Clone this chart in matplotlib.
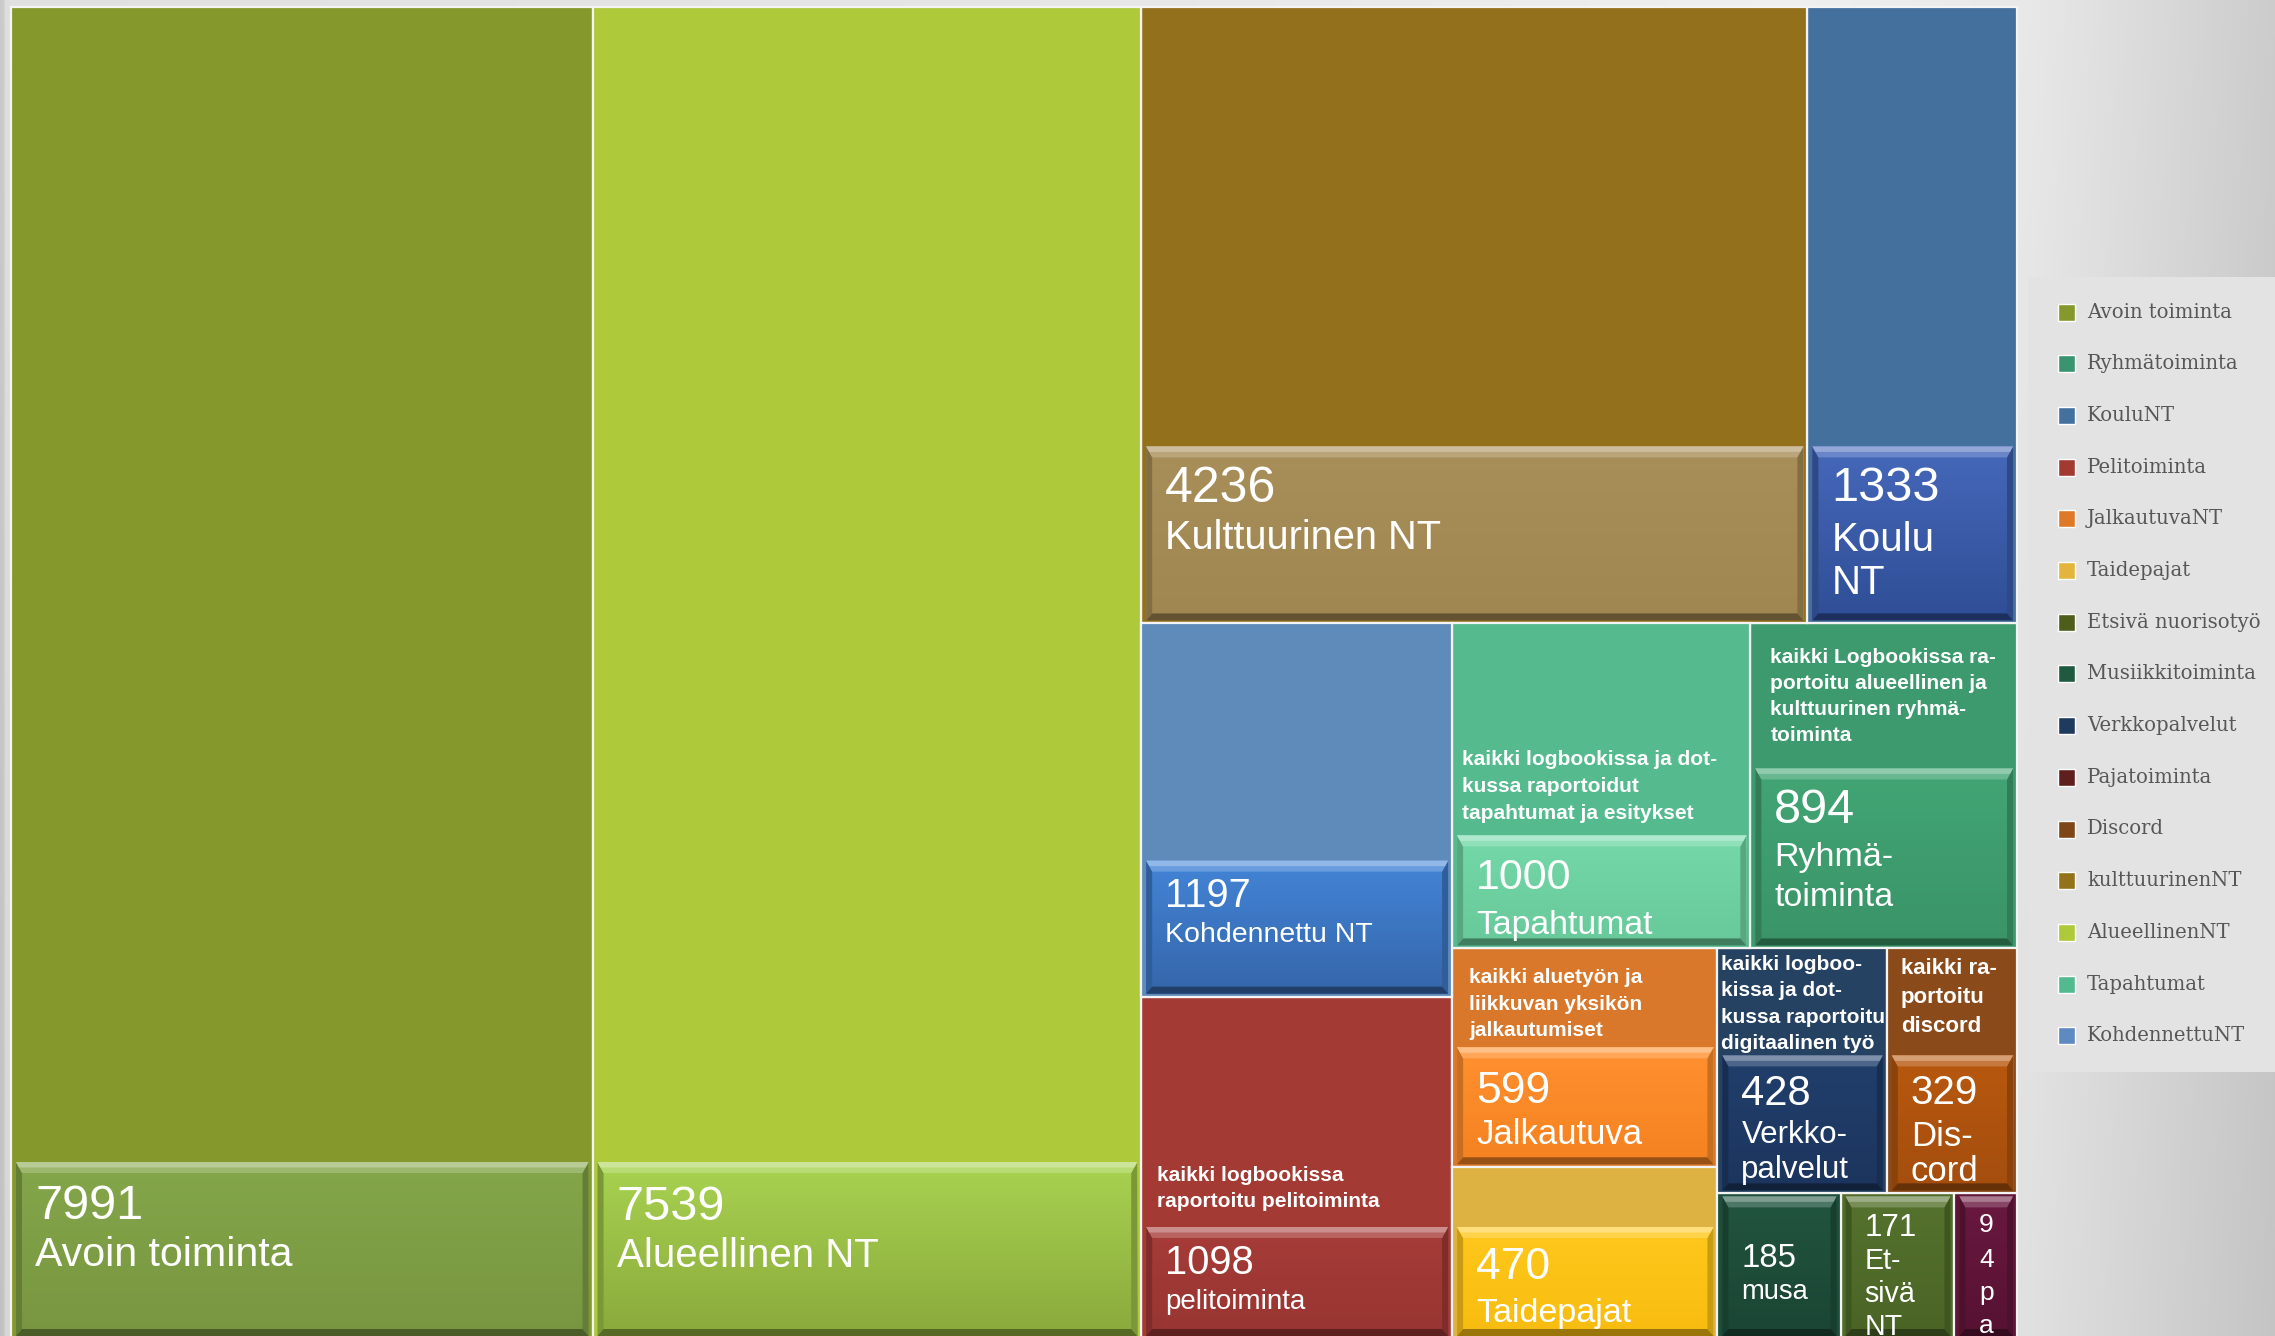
import numpy as np
import matplotlib
matplotlib.use("Agg")
import matplotlib.pyplot as plt
from matplotlib.patches import Rectangle, Polygon
from matplotlib.colors import to_rgb

# ---------------- data ----------------
categories = ["Avoin toiminta", "Ryhmätoiminta", "KouluNT", "Pelitoiminta", "JalkautuvaNT",
              "Taidepajat", "Etsivä nuorisotyö", "Musiikkitoiminta", "Verkkopalvelut",
              "Pajatoiminta", "Discord", "kulttuurinenNT", "AlueellinenNT", "Tapahtumat",
              "KohdennettuNT"]
values = [7991, 894, 1333, 1098, 599, 470, 171, 185, 428, 94, 329, 4236, 7539, 1000, 1197]
tile_names = ["Avoin toiminta", "Ryhmä-\ntoiminta", "Koulu\nNT", "pelitoiminta", "Jalkautuva",
              "Taidepajat", "Et-\nsivä\nNT", "musa", "Verkko-\npalvelut", "paja", "Dis-\ncord",
              "Kulttuurinen NT", "Alueellinen NT", "Tapahtumat", "Kohdennettu NT"]
parent_labels = ["",
                 "kaikki Logbookissa ra-\nportoitu alueellinen ja\nkulttuurinen ryhmä-\ntoiminta",
                 "",
                 "kaikki logbookissa\nraportoitu pelitoiminta",
                 "kaikki aluetyön ja\nliikkuvan yksikön\njalkautumiset",
                 "", "", "",
                 "kaikki logboo-\nkissa ja dot-\nkussa raportoitu\ndigitaalinen työ",
                 "",
                 "kaikki ra-\nportoitu\ndiscord",
                 "", "",
                 "kaikki logbookissa ja dot-\nkussa raportoidut\ntapahtumat ja esitykset",
                 ""]

# ---------------- styles ----------------
tile_colors = ["#84982B", "#3C9A6E", "#44709D", "#A33A33", "#D9772B", "#DDB243", "#506B2A",
               "#1E4D3A", "#264262", "#5E1538", "#8A4A1A", "#93701B", "#AEC93A", "#55BB8F",
               "#5F8BBA"]
legend_colors = ["#84982B", "#3A9470", "#44709D", "#A33A32", "#DE7A27", "#E3B53C", "#4E5E1A",
                 "#1F5A40", "#1F3A5F", "#5F1F1F", "#7E4717", "#94721A", "#AEC93A", "#52BA8E",
                 "#5D8AC0"]
box_top_colors = ["#84A64A", "#42A574", "#4668BA", "#A63C38", "#FF9030", "#FFC81C", "#55722D",
                  "#21553F", "#213F6C", "#6A1840", "#B8580E", "#A88E58", "#A8D250", "#74D8A8",
                  "#4384D6"]
box_bot_colors = ["#789640", "#3A9468", "#2F4E96", "#983532", "#F58220", "#F8BC10", "#4A6426",
                  "#1B4534", "#1C355E", "#561232", "#A44E0E", "#A08650", "#8AAA3C", "#68C99A",
                  "#3566AA"]
# (value font pt, name font pt, box height px or None=full, top pad, gap value->name, name line step)
label_style = [(35, 29.6, 174, 22, 47, 44),
               (35, 24.5, 177, 20, 43, 40),
               (35, 29.0, 174, 20, 50, 43),
               (28.7, 20.0, 109, 18, 35, 30),
               (32, 25.0, 117, 24, 41, 35),
               (32, 24.6, 109, 20, 43, 35),
               (22.5, 20.6, None, 17, 33, 33),
               (23.8, 19.7, None, 47, 32, 30),
               (30, 22.5, 135, 20, 38, 35),
               (19, 19, None, 17, 35, 33),
               (29, 25.0, 135, 20, 42, 35),
               (36, 28.6, 174, 20, 47, 44),
               (35, 29.0, 174, 23, 47, 44),
               (31, 24.3, 110, 23, 45, 35),
               (28.7, 20.5, 133, 18, 35, 30)]
# header: (font pt, dx, gap above box, line step)
header_style = [None, (15, 20, 27, 26), None, (15, 16, 20, 26), (15, 17, 11, 26.5), None, None,
                None, (15, 4, 6, 26.5), None, (16, 14, 23, 29), None, None, (15, 10, 16, 27),
                None]
char_wrap = [False] * 9 + [True] + [False] * 5

W_PX, H_PX, DPI = 2275, 1336, 100
TM_X0, TM_Y0, TM_X1, TM_Y1 = 11, 7, 2017, 1339
TARGET_ASPECT = 0.785
FONT = "Liberation Sans"


def pt2px(pt):
    return pt * DPI / 72.0


def strip_worst(vals, length, scale, vertical, t):
    thick = sum(vals) * scale / length
    worst = 0.0
    for v in vals:
        seg = v * scale / thick
        r = thick / seg if vertical else seg / thick
        worst = max(worst, r / t, t / r)
    return worst


def squarify(vals, x, y, w, h, t):
    order = sorted(range(len(vals)), key=lambda i: -vals[i])
    rects = [None] * len(vals)
    rem = order[:]
    while rem:
        total = sum(vals[i] for i in rem)
        scale = w * h / total
        vertical = w >= h
        length = h if vertical else w
        k = 1
        best = strip_worst([vals[rem[0]]], length, scale, vertical, t)
        while k < len(rem):
            m = strip_worst([vals[i] for i in rem[:k + 1]], length, scale, vertical, t)
            if m <= best:
                best = m
                k += 1
            else:
                break
        row = rem[:k]
        thick = sum(vals[i] for i in row) * scale / length
        pos = 0.0
        for i in row:
            seg = vals[i] * scale / thick
            rects[i] = (x, y + pos, thick, seg) if vertical else (x + pos, y, seg, thick)
            pos += seg
        if vertical:
            x += thick
            w -= thick
        else:
            y += thick
            h -= thick
        rem = rem[k:]
    return rects


def mix(c, other, a):
    c = np.array(to_rgb(c))
    o = np.array(to_rgb(other))
    return tuple(c * (1 - a) + o * a)


def draw_box(ax, x0, y0, x1, y1, ctop, cbot):
    c1 = np.array(to_rgb(ctop))
    c2 = np.array(to_rgb(cbot))
    f = np.linspace(0, 1, 64)[:, None]
    grad = (c1 * (1 - f) + c2 * f)[:, None, :]
    ax.imshow(grad, extent=(x0, x1, y1, y0), aspect="auto", interpolation="bilinear",
              zorder=3)
    bt = min(11, (y1 - y0) / 4)
    bb = min(7, (y1 - y0) / 6)
    bs = 6
    light = mix(ctop, "white", 0.42)
    light2 = mix(ctop, "white", 0.2)
    dark = mix(cbot, "black", 0.38)
    side = mix((c1 + c2) / 2, "black", 0.2)
    ax.add_patch(Polygon([(x0, y0), (x0 + bs, y0 + bt), (x0 + bs, y1 - bb), (x0, y1)],
                         closed=True, fc=side, ec="none", zorder=4))
    ax.add_patch(Polygon([(x1, y0), (x1 - bs, y0 + bt), (x1 - bs, y1 - bb), (x1, y1)],
                         closed=True, fc=side, ec="none", zorder=4))
    ax.add_patch(Polygon([(x0, y1), (x1, y1), (x1 - bs, y1 - bb), (x0 + bs, y1 - bb)],
                         closed=True, fc=dark, ec="none", zorder=4))
    ax.add_patch(Polygon([(x0, y0), (x1, y0), (x1 - bs, y0 + bt), (x0 + bs, y0 + bt)],
                         closed=True, fc=light2, ec="none", zorder=4))
    ax.add_patch(Polygon([(x0, y0), (x1, y0), (x1 - bs * 0.5, y0 + bt * 0.5),
                          (x0 + bs * 0.5, y0 + bt * 0.5)],
                         closed=True, fc=light, ec="none", zorder=4))


fig = plt.figure(figsize=(W_PX / DPI, H_PX / DPI), dpi=DPI)
ax = fig.add_axes([0, 0, 1, 1])
ax.axis("off")

# background gradient
xs = np.arange(W_PX)
prof = np.interp(xs, [0, 3, 5, 12, 1000, 1800, 2030, 2275],
                 [0.79, 0.80, 0.87, 0.88, 0.90, 0.94, 0.91, 0.80])
ys = np.linspace(0, 1, 40)
bg = prof[None, :] - 0.03 * ys[:, None]
ax.imshow(np.dstack([bg, bg, bg]), extent=(0, W_PX, H_PX, 0), aspect="auto",
          interpolation="bilinear", zorder=0)

rects = squarify(values, TM_X0, TM_Y0, TM_X1 - TM_X0, TM_Y1 - TM_Y0, TARGET_ASPECT)

for i in range(len(values)):
    tx, ty, tw, th = rects[i]
    tile = Rectangle((tx, ty), tw, th, fc=tile_colors[i], ec="#f4f4f4", lw=1.6, zorder=2)
    ax.add_patch(tile)

    fs_val, fs_name, bh, pad, gap1, ls = label_style[i]
    bx0, bx1, by1 = tx + 5, tx + tw - 4, ty + th - 3
    by0 = ty + 3 if bh is None else by1 - bh
    draw_box(ax, bx0, by0, bx1, by1, box_top_colors[i], box_bot_colors[i])
    clip = Rectangle((bx0, by0), bx1 - bx0, by1 - by0, fc="none", ec="none", zorder=0)
    ax.add_patch(clip)

    if char_wrap[i]:
        lines = [(c, fs_val) for c in str(values[i])] + [(c, fs_name) for c in tile_names[i]]
        xt, ha = (bx0 + bx1) / 2, "center"
    else:
        lines = [(str(values[i]), fs_val)] + [(s, fs_name) for s in tile_names[i].split("\n")]
        xt, ha = tx + 24, "left"
    b = by0 + pad + 0.716 * pt2px(lines[0][1])
    for j, (s, fs) in enumerate(lines):
        if j == 1:
            b += gap1
        elif j > 1:
            b += ls
        t = ax.text(xt, b, s, fontsize=fs, color="white", family=FONT, ha=ha,
                    va="baseline", zorder=6)
        t.set_clip_path(clip)

    if parent_labels[i]:
        hfs, hdx, hgap, hls = header_style[i]
        hl = parent_labels[i].split("\n")
        tclip = Rectangle((tx, ty), tw, th, fc="none", ec="none", zorder=0)
        ax.add_patch(tclip)
        for j, s in enumerate(hl):
            yb = by0 - hgap - (len(hl) - 1 - j) * hls
            t = ax.text(tx + hdx, yb, s, fontsize=hfs, color="white", family=FONT,
                        fontweight="bold", ha="left", va="baseline", zorder=6)
            t.set_clip_path(tclip)

# legend
ax.add_patch(Rectangle((2028, 277), 260, 795, fc="#e3e3e3", ec="none", zorder=1))
for k, (name, col) in enumerate(zip(categories, legend_colors)):
    yc = 312 + k * 51.7
    ax.add_patch(Rectangle((2058, yc - 8.5), 17, 17, fc=col, ec="white", lw=1.0, zorder=2))
    ax.text(2087, yc, name, fontsize=14.1, color="#575757", family="DejaVu Serif",
            ha="left", va="center", zorder=2)

ax.set_xlim(0, W_PX)
ax.set_ylim(H_PX, 0)
fig.savefig("out.png", dpi=DPI)
